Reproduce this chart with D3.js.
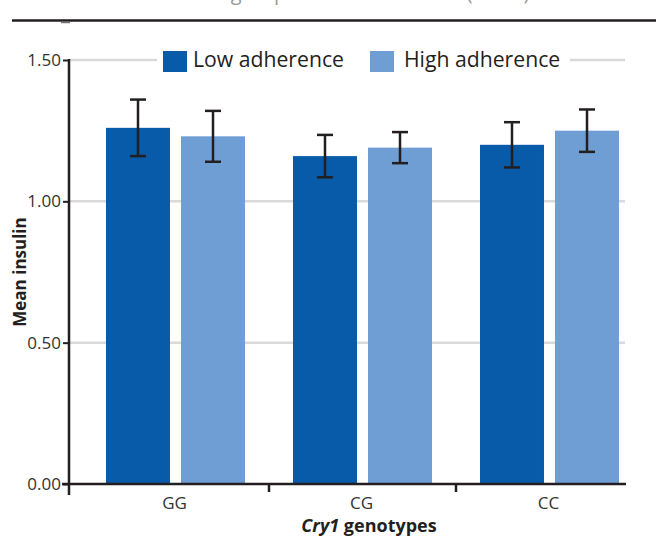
<!DOCTYPE html>
<html><head><meta charset="utf-8">
<script src="https://cdn.jsdelivr.net/npm/d3@7"></script>
<style>body{margin:0;background:#fff;}svg{display:block;font-family:"Open Sans","Noto Sans",sans-serif;}</style>
</head><body>
<svg id="c" width="656" height="536"></svg>
<script>
const categories = ["GG", "CG", "CC"];
const seriesNames = ["Low adherence", "High adherence"];
const lowValues = [1.26, 1.16, 1.20];
const lowErrors = [0.10, 0.075, 0.08];
const highValues = [1.23, 1.19, 1.25];
const highErrors = [0.09, 0.055, 0.075];
const yTicks = [0, 0.5, 1.0, 1.5];
const colors = ["#075ba8", "#6f9ed4"];

const svg = d3.select("#c");
const y = d3.scaleLinear().domain([0, 1.5]).range([484, 60]);
const x = d3.scaleBand().domain(categories).range([82, 643]).paddingInner(0).paddingOuter(0);
const xs = d3.scaleBand().domain(seriesNames).range([24, 163]).paddingInner(0.147);

// cropped title
svg.append("text").attr("x", 327).attr("y", 0).attr("text-anchor", "middle")
  .attr("font-size", 20).attr("fill", "#999").text("Adherence groups and mean insulin (mU/L)");
svg.append("line").attr("x1", 12).attr("x2", 656).attr("y1", 20.5).attr("y2", 20.5)
  .attr("stroke", "#231f20").attr("stroke-width", 2.5);
svg.append("line").attr("x1", 61).attr("x2", 70).attr("y1", 22.5).attr("y2", 22.5)
  .attr("stroke", "#777").attr("stroke-width", 1.5);

// gridlines
svg.append("g").selectAll("line").data(yTicks.filter(d => d > 0)).join("line")
  .attr("x1", 69).attr("x2", 625).attr("y1", d => y(d)).attr("y2", d => y(d))
  .attr("stroke", "#d9d9d9").attr("stroke-width", 2.5);

// bars
const data = [];
categories.forEach((c, i) => {
  data.push({c, s: seriesNames[0], v: lowValues[i], e: lowErrors[i], col: colors[0]});
  data.push({c, s: seriesNames[1], v: highValues[i], e: highErrors[i], col: colors[1]});
});
svg.append("g").selectAll("rect").data(data).join("rect")
  .attr("x", d => x(d.c) + xs(d.s)).attr("width", xs.bandwidth())
  .attr("y", d => y(d.v)).attr("height", d => y(0) - y(d.v)).attr("fill", d => d.col);

// error bars
const eb = svg.append("g").attr("stroke", "#231f20").attr("stroke-width", 2.5);
data.forEach(d => {
  const cx = x(d.c) + xs(d.s) + xs.bandwidth() / 2;
  eb.append("line").attr("x1", cx).attr("x2", cx).attr("y1", y(d.v + d.e)).attr("y2", y(d.v - d.e));
  eb.append("line").attr("x1", cx - 8).attr("x2", cx + 8).attr("y1", y(d.v + d.e)).attr("y2", y(d.v + d.e));
  eb.append("line").attr("x1", cx - 8).attr("x2", cx + 8).attr("y1", y(d.v - d.e)).attr("y2", y(d.v - d.e));
});

// y axis
const yAxis = svg.append("g").attr("transform", "translate(69,0)")
  .call(d3.axisLeft(y).tickValues(yTicks).tickFormat(d3.format(".2f")).tickSize(6).tickPadding(2));
yAxis.attr("font-family", null).attr("font-size", null);
yAxis.select(".domain").remove();
yAxis.selectAll(".tick line").attr("stroke", "#231f20").attr("stroke-width", 2);
yAxis.selectAll(".tick text").attr("font-size", 17).attr("fill", "#333");
svg.append("line").attr("x1", 69).attr("x2", 69).attr("y1", 59).attr("y2", 495)
  .attr("stroke", "#231f20").attr("stroke-width", 2.5);

// x axis
svg.append("line").attr("x1", 62).attr("x2", 626).attr("y1", 484).attr("y2", 484)
  .attr("stroke", "#231f20").attr("stroke-width", 2.5);
const bounds = categories.slice(1).map(c => x(c));
svg.append("g").selectAll("line").data(bounds).join("line")
  .attr("x1", d => d).attr("x2", d => d).attr("y1", 484).attr("y2", 492)
  .attr("stroke", "#231f20").attr("stroke-width", 2.5);
svg.append("g").selectAll("text").data(categories).join("text")
  .attr("x", d => x(d) + x.bandwidth() / 2 - 1).attr("y", 509).attr("text-anchor", "middle")
  .attr("font-size", 17).attr("fill", "#333").text(d => d);

// axis titles
const xt = svg.append("text").attr("x", 369).attr("y", 532).attr("text-anchor", "middle")
  .attr("font-size", 18).attr("font-weight", "bold").attr("fill", "#231f20");
xt.append("tspan").attr("font-style", "italic").text("Cry1");
xt.append("tspan").text(" genotypes");
svg.append("text").attr("transform", "translate(26,272) rotate(-90)").attr("text-anchor", "middle")
  .attr("font-size", 17).attr("font-weight", "bold").attr("fill", "#231f20").text("Mean insulin");

// legend
const lg = svg.append("g");
lg.append("rect").attr("x", 157).attr("y", 52).attr("width", 413).attr("height", 20).attr("fill", "#fff");
const legendX = [163, 370];
const legendTextX = [193, 404];
seriesNames.forEach((s, i) => {
  lg.append("rect").attr("x", legendX[i]).attr("y", 51).attr("width", 24).attr("height", 21).attr("fill", colors[i]);
  lg.append("text").attr("x", legendTextX[i]).attr("y", 67).attr("font-size", 21.2)
    .attr("fill", "#231f20").text(s);
});
</script>
</body></html>
